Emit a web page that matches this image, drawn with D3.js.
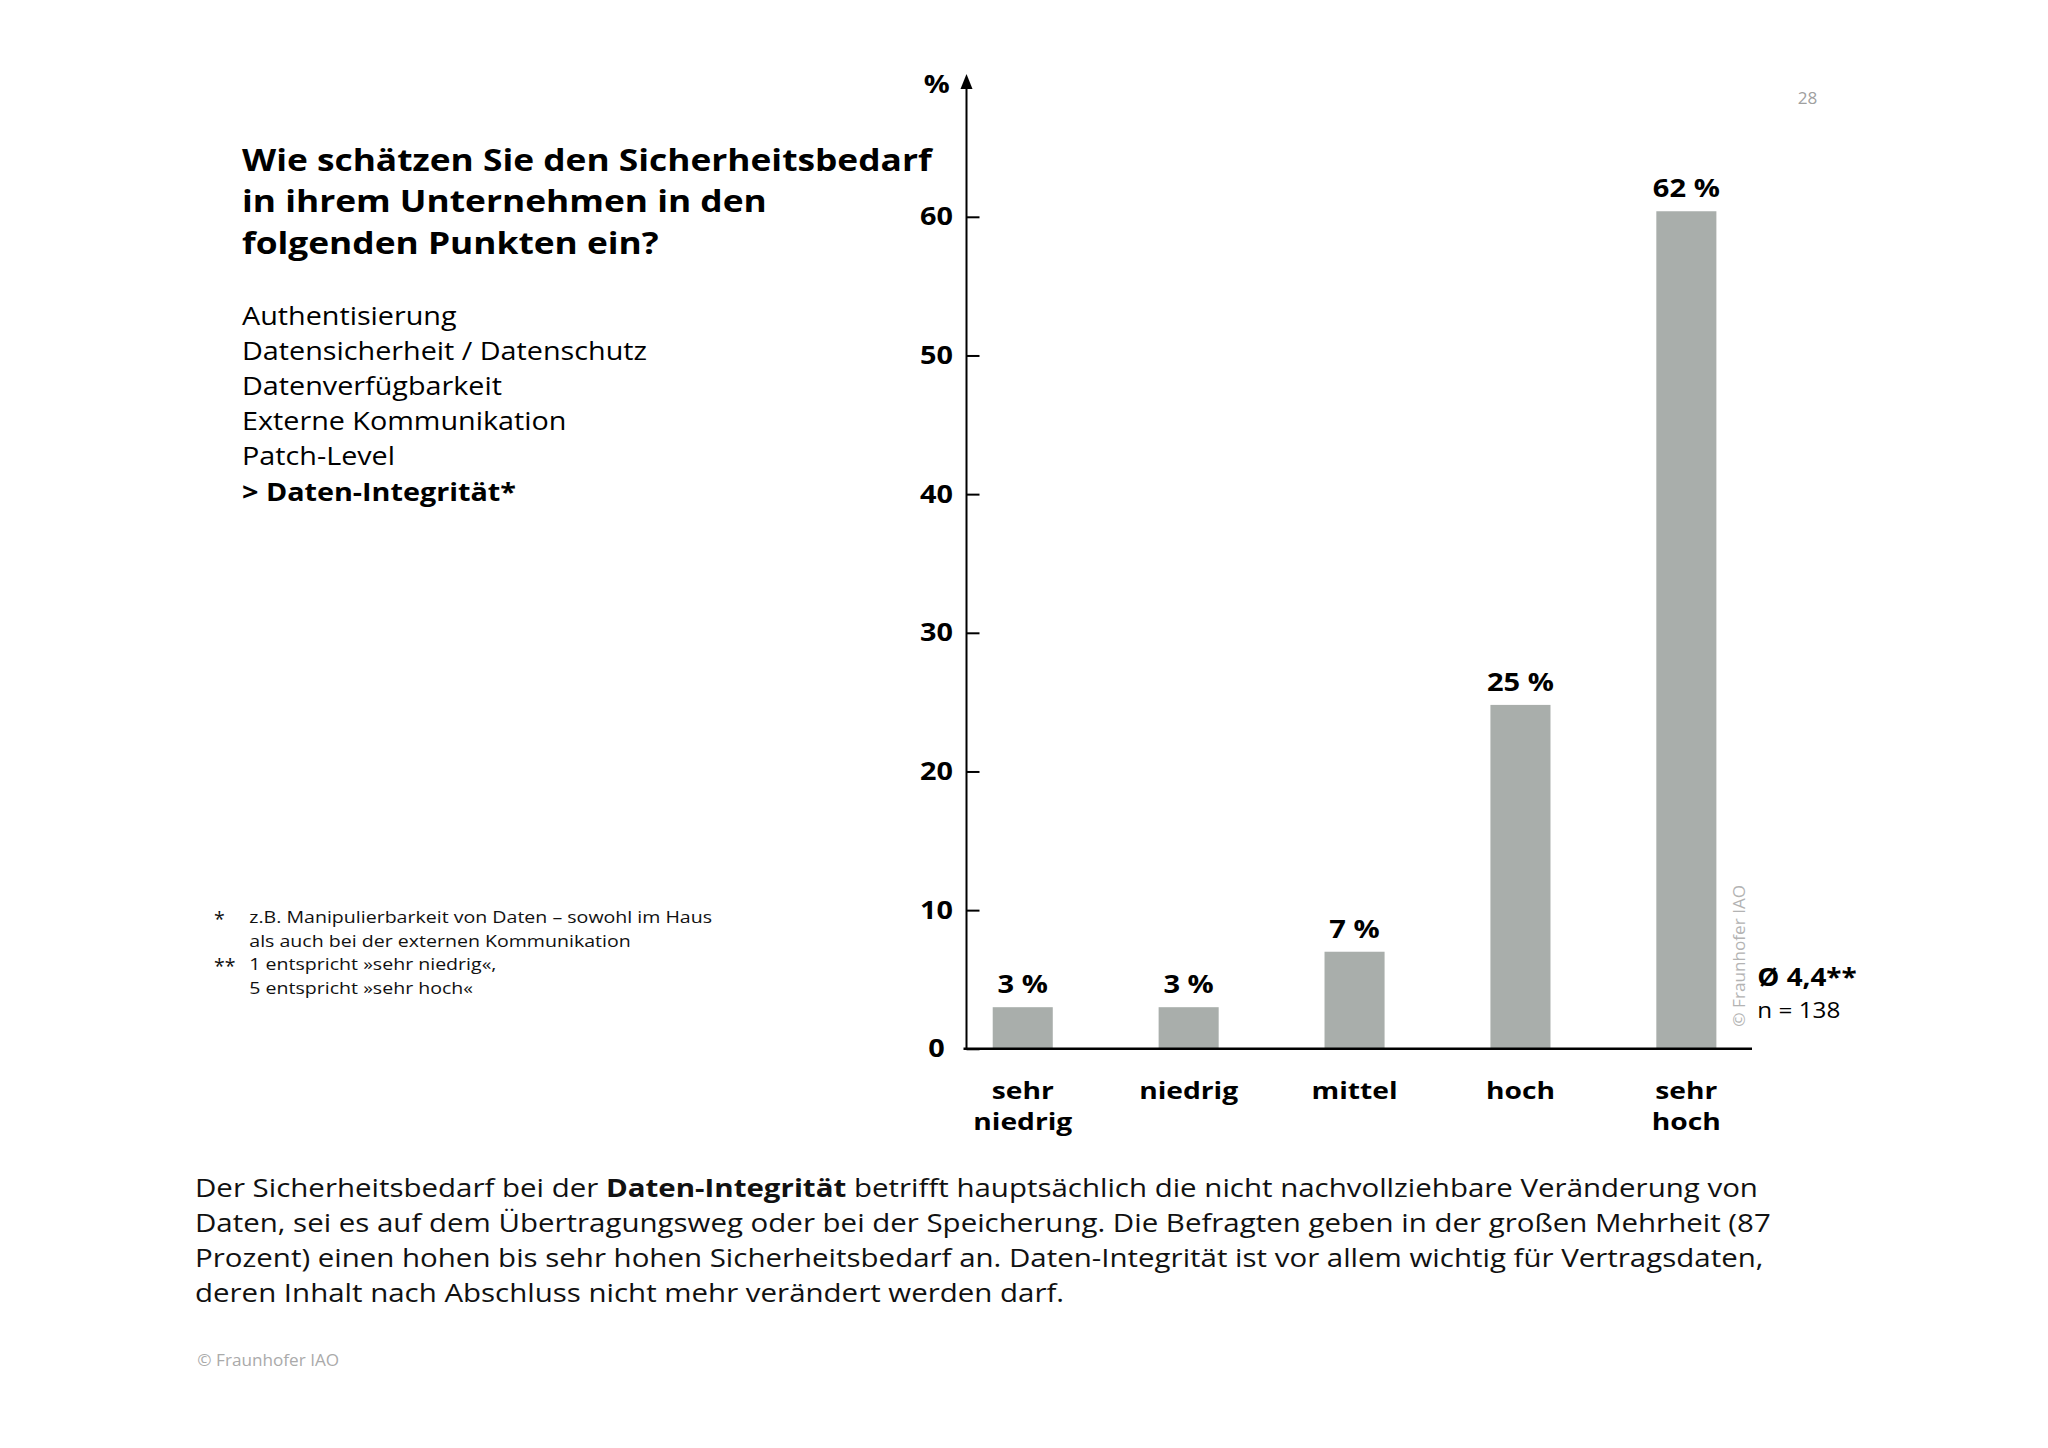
<!DOCTYPE html>
<html><head><meta charset="utf-8">
<script src="https://cdn.jsdelivr.net/npm/d3@7"></script>
<style>
html,body{margin:0;padding:0;background:#fff;}
svg{display:block;}
text{font-family:"Open Sans","Noto Sans",sans-serif;}
</style>
</head><body>
<svg id="chart" width="2048" height="1448"></svg>
<script>
// ---------- data ----------
const categories = ["sehr niedrig", "niedrig", "mittel", "hoch", "sehr hoch"];
const categoryLines = [["sehr", "niedrig"], ["niedrig"], ["mittel"], ["hoch"], ["sehr", "hoch"]];
const barValues = [3, 3, 7, 24.8, 60.4];          // bar heights as drawn
const valueLabels = ["3 %", "3 %", "7 %", "25 %", "62 %"];
const yTicks = [0, 10, 20, 30, 40, 50, 60];
const yUnit = "%";
const titleLines = ["Wie schätzen Sie den Sicherheitsbedarf", "in ihrem Unternehmen in den", "folgenden Punkten ein?"];
const listItems = ["Authentisierung", "Datensicherheit / Datenschutz", "Datenverfügbarkeit", "Externe Kommunikation", "Patch-Level"];
const listHighlight = "> Daten-Integrität*";
const footnoteMarks = ["*", "", "**", ""];
const footnoteLines = ["z.B. Manipulierbarkeit von Daten – sowohl im Haus", "als auch bei der externen Kommunikation", "1 entspricht »sehr niedrig«,", "5 entspricht »sehr hoch«"];
const paragraphLines = [
  [["Der Sicherheitsbedarf bei der ", false], ["Daten-Integrität", true], [" betrifft hauptsächlich die nicht nachvollziehbare Veränderung von", false]],
  [["Daten, sei es auf dem Übertragungsweg oder bei der Speicherung. Die Befragten geben in der großen Mehrheit (87", false]],
  [["Prozent) einen hohen bis sehr hohen Sicherheitsbedarf an. Daten-Integrität ist vor allem wichtig für Vertragsdaten,", false]],
  [["deren Inhalt nach Abschluss nicht mehr verändert werden darf.", false]]
];
const meanLabel = "Ø 4,4**";
const nLabel = "n = 138";
const copyright = "© Fraunhofer IAO";
const pageNumber = "28";

// ---------- helpers ----------
const svg = d3.select("#chart");
function fit(str, weight, target) {
  const t = svg.append("text").attr("font-size", 20).attr("font-weight", weight).text(str);
  const w = t.node().getComputedTextLength();
  t.remove();
  return 20 * target / w;
}
function fitSpans(parts, target) {
  const t = svg.append("text").attr("font-size", 20);
  parts.forEach(p => t.append("tspan").attr("font-weight", p[1] ? 700 : 400).text(p[0]));
  const w = t.node().getComputedTextLength();
  t.remove();
  return 20 * target / w;
}
// glyphs of the reference are lower than Open Sans at equal width: use a smaller
// size and widen the glyphs back to the measured width
function stretch(sel, k) {
  sel.each(function () {
    const w = this.getComputedTextLength();
    if (w > 0) d3.select(this).attr("textLength", w * k).attr("lengthAdjust", "spacingAndGlyphs");
  });
}
const S = 0.87;

// ---------- chart ----------
const y = d3.scaleLinear().domain([0, 60]).range([1048.8, 216.8]);
const x = d3.scaleBand().domain(categories).range([966.5, 1742.6]).paddingInner(0.638).paddingOuter(0.158);
const barColor = "#a9aeab";

// bars
svg.append("g").selectAll("rect").data(barValues).join("rect")
  .attr("x", (d, i) => x(categories[i]))
  .attr("width", x.bandwidth())
  .attr("y", d => y(d))
  .attr("height", d => y(0) - y(d))
  .attr("fill", barColor);

// y axis
const ax = x.range()[0];
const tickSize = fit("60", 700, 33);
const yAxis = svg.append("g").attr("transform", `translate(${ax},0)`)
  .call(d3.axisLeft(y).tickValues(yTicks).tickSize(-13).tickPadding(14).tickFormat(d3.format("d")));
yAxis.select(".domain").remove();
yAxis.selectAll(".tick line").attr("stroke", "#000").attr("stroke-width", 2);
yAxis.selectAll(".tick text").attr("font-size", tickSize * S).attr("font-weight", 700)
  .attr("fill", "#000").attr("font-family", '"Open Sans","Noto Sans",sans-serif')
  .attr("text-anchor", "middle").attr("x", 936.4 - ax)
  .call(stretch, 1 / S);
// axis line with arrow
svg.append("line").attr("x1", ax).attr("x2", ax).attr("y1", y(0)).attr("y2", 86)
  .attr("stroke", "#000").attr("stroke-width", 2);
svg.append("path").attr("d", `M${ax},74 L${ax - 6},89 L${ax + 6},89 Z`).attr("fill", "#000");
svg.append("text").attr("x", 936.7).attr("y", 93).attr("text-anchor", "middle")
  .attr("font-weight", 700).attr("font-size", tickSize * S).text(yUnit).call(stretch, 1 / S);

// x axis line
svg.append("line").attr("x1", ax - 3).attr("x2", 1752).attr("y1", y(0)).attr("y2", y(0))
  .attr("stroke", "#000").attr("stroke-width", 2.5);

// value labels
const valSize = fit("62 %", 700, 67);
svg.append("g").selectAll("text").data(valueLabels).join("text")
  .attr("x", (d, i) => x(categories[i]) + x.bandwidth() / 2)
  .attr("y", (d, i) => y(barValues[i]) - 14)
  .attr("text-anchor", "middle").attr("font-weight", 700).attr("font-size", valSize * S)
  .text(d => d).call(stretch, 1 / S);

// category labels (one text per line)
const catSize = fit("niedrig", 700, 99);
const catRows = [];
categoryLines.forEach((lines, i) => lines.forEach((t, j) => catRows.push({ i, j, t })));
const CS = 0.8;
svg.append("g").selectAll("text").data(catRows).join("text")
  .attr("text-anchor", "middle").attr("font-weight", 700).attr("font-size", catSize * CS)
  .attr("x", d => x(categories[d.i]) + x.bandwidth() / 2)
  .attr("y", d => 1099 + d.j * 30.5)
  .text(d => d.t).call(stretch, 1 / CS);

// mean and n
svg.append("text").attr("x", 1757.3).attr("y", 986).attr("font-weight", 700)
  .attr("font-size", fit(meanLabel, 700, 99.4) * S).text(meanLabel).call(stretch, 1 / S);
svg.append("text").attr("x", 1757.3).attr("y", 1018.3)
  .attr("font-size", fit(nLabel, 400, 83) * S).text(nLabel).call(stretch, 1 / S);

// vertical copyright next to last bar
const copySize = fit(copyright, 400, 142);
svg.append("text").attr("transform", "translate(1745,1026.7) rotate(-90)")
  .attr("font-size", copySize).attr("fill", "#b3b3b3").text(copyright);

// ---------- left texts ----------
const titleSize = fit(titleLines[0], 700, 690);
svg.append("g").selectAll("text").data(titleLines).join("text")
  .attr("x", 242).attr("y", (d, i) => 170.5 + i * 41.5)
  .attr("font-weight", 700).attr("font-size", titleSize * S).attr("fill", "#000")
  .text(d => d).call(stretch, 1 / S);

const listSize = fit(listItems[1], 400, 405);
const listAll = listItems.concat([listHighlight]);
svg.append("g").selectAll("text").data(listAll).join("text")
  .attr("x", 242).attr("y", (d, i) => 324.5 + i * 35.2)
  .attr("font-weight", (d, i) => i === listAll.length - 1 ? 700 : 400)
  .attr("font-size", listSize * S).attr("fill", "#000").text(d => d).call(stretch, 1 / S);

const fnSize = fit(footnoteLines[0], 400, 463);
const fnG = svg.append("g");
fnG.selectAll("text.l").data(footnoteLines).join("text").attr("class", "l")
  .attr("x", 249.3).attr("y", (d, i) => 923 + i * 23.7)
  .attr("font-size", fnSize * S).attr("fill", "#111").text(d => d).call(stretch, 1 / S);
fnG.selectAll("text.m").data(footnoteMarks).join("text").attr("class", "m")
  .attr("x", 214).attr("y", (d, i) => 926 + i * 23.7)
  .attr("font-size", fnSize).attr("fill", "#111").text(d => d);

// paragraph
const paraSize = fitSpans(paragraphLines[0], 1564);
const para = svg.append("g").selectAll("text").data(paragraphLines).join("text")
  .attr("x", 195).attr("y", (d, i) => 1196.7 + i * 35)
  .attr("font-size", paraSize * S).attr("fill", "#111");
para.selectAll("tspan").data(d => d).join("tspan")
  .attr("font-weight", d => d[1] ? 700 : 400).text(d => d[0]);
para.selectAll("tspan").call(stretch, 1 / S);

// footer
svg.append("text").attr("x", 197.3).attr("y", 1366)
  .attr("font-size", copySize).attr("fill", "#aaa").text(copyright);
svg.append("text").attr("x", 1797.7).attr("y", 104.3)
  .attr("font-size", fit(pageNumber, 400, 19.6)).attr("fill", "#a0a0a0").text(pageNumber);
</script>
</body></html>
